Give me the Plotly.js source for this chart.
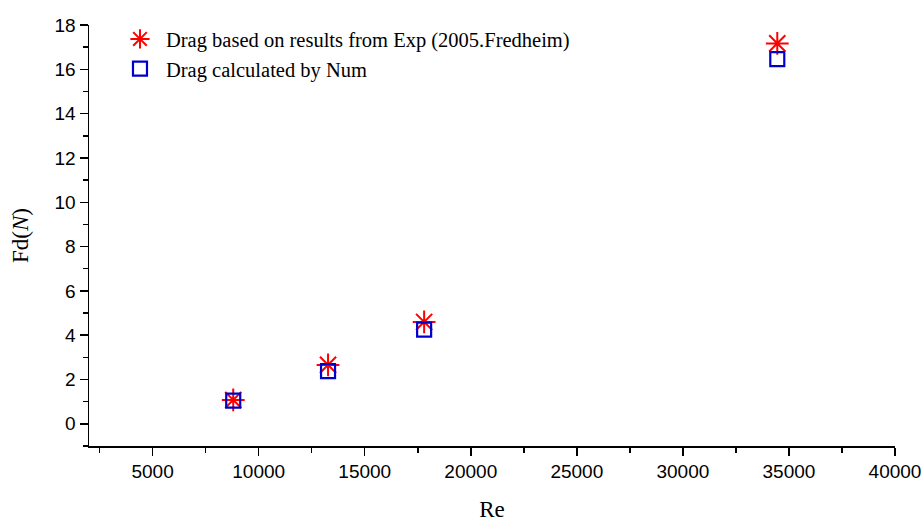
<!DOCTYPE html>
<html>
<head>
<meta charset="utf-8">
<script src="https://cdn.plot.ly/plotly-3.0.1.min.js"></script>
<style>html,body{margin:0;padding:0;background:#fff;}#chart{width:924px;height:522px;}</style>
</head>
<body>
<div id="chart"></div>
<script>
const reynolds = [8800, 13270, 17800, 34450];
const dragExp = [1.08, 2.66, 4.6, 17.17];
const dragNum = [1.05, 2.38, 4.25, 16.46];
const seriesNames = ["Drag based on results from Exp (2005.Fredheim)", "Drag calculated by Num"];
const xTicks = [5000, 10000, 15000, 20000, 25000, 30000, 35000, 40000];
const yTicks = [0, 2, 4, 6, 8, 10, 12, 14, 16, 18];

const traces = [
  {
    x: reynolds, y: dragExp, name: seriesNames[0], type: 'scatter', mode: 'markers',
    marker: {symbol: 'asterisk-open', size: 19, color: '#ff0000', line: {color: '#ff0000', width: 2}}
  },
  {
    x: reynolds, y: dragNum, name: seriesNames[1], type: 'scatter', mode: 'markers',
    marker: {symbol: 'square-open', size: 14, color: '#0000cc', line: {color: '#0000cc', width: 2.2}}
  }
];

const axisCommon = {
  showgrid: false, zeroline: false, showline: true, linecolor: '#000', linewidth: 1.5,
  ticks: 'outside', ticklen: 8, tickwidth: 1.5, tickcolor: '#000',
  tickfont: {family: 'Liberation Sans, Arial, sans-serif', size: 19, color: '#000'},
  mirror: false
};

const layout = {
  width: 924, height: 522,
  margin: {l: 89, r: 29, t: 25, b: 76},
  paper_bgcolor: '#fff', plot_bgcolor: '#fff',
  showlegend: true,
  legend: {
    x: 0.031, y: 1.014, xanchor: 'left', yanchor: 'top',
    bgcolor: 'rgba(0,0,0,0)', borderwidth: 0, itemwidth: 42,
    font: {family: 'Liberation Serif, Times New Roman, serif', size: 20.5, color: '#000'},
    tracegroupgap: 0
  },
  xaxis: Object.assign({}, axisCommon, {
    range: [2000, 40000], tickvals: xTicks, ticktext: xTicks.map(String),
    minor: {dtick: 5000, tick0: 2500, ticks: 'outside', ticklen: 5, tickwidth: 1.5, tickcolor: '#000'},
    title: {text: 'Re', font: {family: 'Liberation Serif, Times New Roman, serif', size: 23, color: '#000'}, standoff: 20}
  }),
  yaxis: Object.assign({}, axisCommon, {
    range: [-1, 18], tickvals: yTicks, ticktext: yTicks.map(String),
    minor: {dtick: 2, tick0: 1, ticks: 'outside', ticklen: 5, tickwidth: 1.5, tickcolor: '#000'},
    title: {text: 'Fd(<i>N</i>)', font: {family: 'Liberation Serif, Times New Roman, serif', size: 23, color: '#000'}, standoff: 19}
  })
};

Plotly.newPlot('chart', traces, layout, {displayModeBar: false, staticPlot: true});
</script>
</body>
</html>
